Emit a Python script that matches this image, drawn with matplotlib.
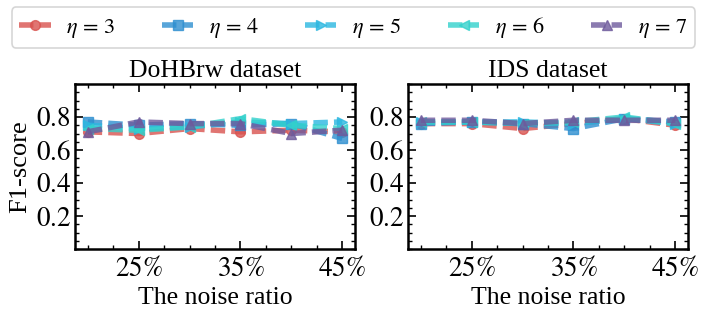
import matplotlib
matplotlib.use("Agg")
import matplotlib.pyplot as plt
from matplotlib.ticker import MultipleLocator, FuncFormatter

plt.rcParams['font.family'] = ['Liberation Serif', 'DejaVu Serif']
plt.rcParams['mathtext.fontset'] = 'stix'

noise = [20, 25, 30, 35, 40, 45]
etas = ['3', '4', '5', '6', '7']
titles = ['DoHBrw dataset', 'IDS dataset']

doh_eta3 = [0.71, 0.70, 0.73, 0.71, 0.72, 0.71]
doh_eta4 = [0.77, 0.75, 0.76, 0.75, 0.76, 0.67]
doh_eta5 = [0.75, 0.73, 0.74, 0.77, 0.76, 0.77]
doh_eta6 = [0.73, 0.72, 0.74, 0.79, 0.75, 0.73]
doh_eta7 = [0.71, 0.77, 0.76, 0.76, 0.70, 0.72]

ids_eta3 = [0.76, 0.76, 0.73, 0.76, 0.79, 0.75]
ids_eta4 = [0.76, 0.77, 0.76, 0.73, 0.79, 0.77]
ids_eta5 = [0.77, 0.77, 0.77, 0.76, 0.79, 0.76]
ids_eta6 = [0.77, 0.77, 0.76, 0.77, 0.80, 0.76]
ids_eta7 = [0.78, 0.78, 0.76, 0.78, 0.78, 0.78]

data = [
    [doh_eta3, doh_eta4, doh_eta5, doh_eta6, doh_eta7],
    [ids_eta3, ids_eta4, ids_eta5, ids_eta6, ids_eta7],
]

colors = ['#d9534f', '#2e8fd0', '#2bb7e0', '#33d1cc', '#6e5a9c']
markers = ['o', 's', '>', '<', '^']

fig = plt.figure(figsize=(7.07, 3.14), dpi=100)
axes = [fig.add_axes([75/707, 1-249/314, 280/707, 165/314]),
        fig.add_axes([408/707, 1-249/314, 280/707, 165/314])]

handles = []
for k, ax in enumerate(axes):
    for i in range(5):
        h, = ax.plot(noise, data[k][i], color=colors[i], marker=markers[i],
                     linestyle=(0, (2.6, 1.1)), linewidth=4, markersize=7,
                     alpha=0.8, label=r'$\eta\,=\,%s$' % etas[i])
        if k == 0:
            handles.append(h)
    ax.set_ylim(0, 1)
    ax.set_xlim(18.75, 46.25)
    ax.set_xticks([25, 35, 45])
    ax.xaxis.set_minor_locator(MultipleLocator(2.5))
    ax.set_yticks([0.2, 0.4, 0.6, 0.8])
    ax.yaxis.set_minor_locator(MultipleLocator(0.05))
    ax.xaxis.set_major_formatter(FuncFormatter(lambda v, p: r'$%d\%%$' % round(v)))
    ax.yaxis.set_major_formatter(FuncFormatter(lambda v, p: r'$%.1f$' % v))
    ax.tick_params(which='both', direction='in', top=True, right=True, labelsize=19.5)
    ax.tick_params(which='major', length=6, width=1.2)
    ax.tick_params(axis='x', which='major', pad=6)
    ax.tick_params(axis='y', which='major', pad=3)
    ax.tick_params(which='minor', length=3, width=1)
    for s in ax.spines.values():
        s.set_linewidth(1.8)
    ax.set_title(titles[k], fontsize=18.5, pad=5)
    ax.set_xlabel('The noise ratio', fontsize=18.5, labelpad=3)

axes[0].set_ylabel('F1-score', fontsize=19, labelpad=3)

leg = fig.legend(handles=handles, loc='upper center', ncol=5,
                 bbox_to_anchor=(0.5, 1.012), fontsize=16, frameon=True,
                 handlelength=1.4, handletextpad=0.7, columnspacing=2.1,
                 borderpad=0.35, fancybox=True, edgecolor='#cccccc')
leg.get_frame().set_linewidth(1.2)

fig.savefig('out.png', dpi=100)
